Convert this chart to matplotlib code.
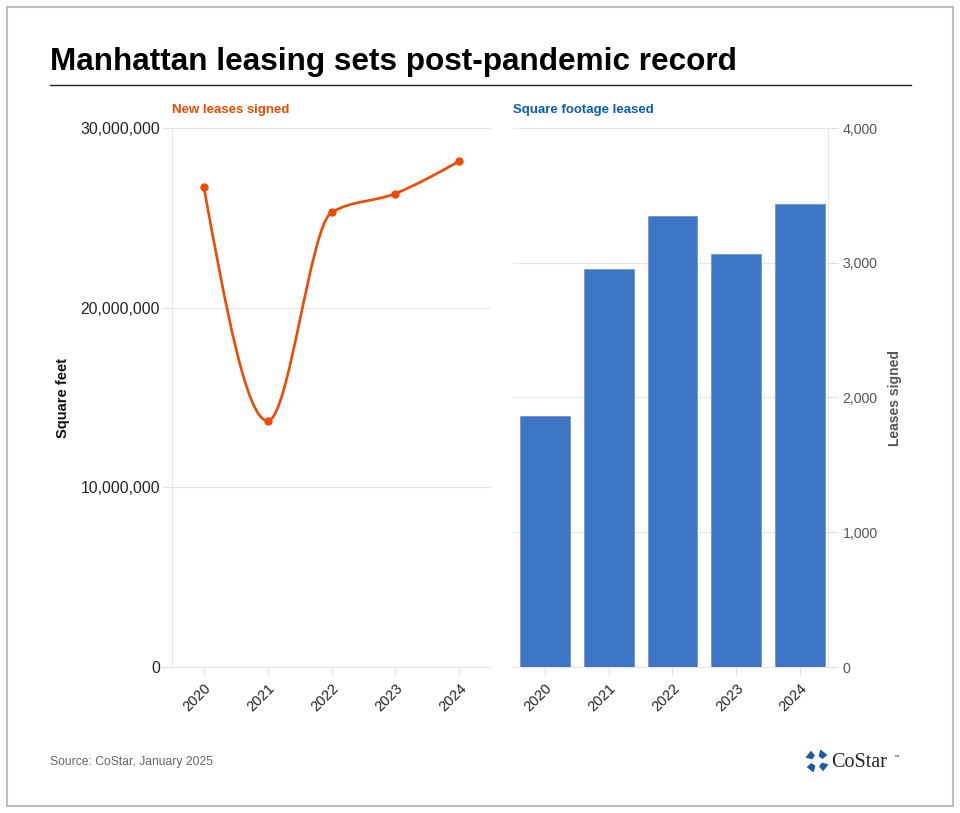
import numpy as np
import matplotlib
matplotlib.use("Agg")
import matplotlib.pyplot as plt
from matplotlib.path import Path
from matplotlib.patches import PathPatch, Rectangle, Polygon
from matplotlib.lines import Line2D
from matplotlib.ticker import FuncFormatter

plt.rcParams['font.family'] = ['Liberation Sans', 'DejaVu Sans']

years = ['2020', '2021', '2022', '2023', '2024']
square_feet = [26700000, 13700000, 25300000, 26350000, 28150000]
leases = [1865, 2955, 3345, 3065, 3435]

orange = '#f04a00'
blue = '#3d76c6'
W, H = 960, 813


def fx(px):
    return px / W


def fy(py):
    return 1 - py / H


def monotone_path(x, y):
    # d3 curveMonotoneX style bezier path through the points
    x = np.asarray(x, float)
    y = np.asarray(y, float)
    n = len(x)
    h = np.diff(x)
    s = np.diff(y) / h
    m = np.zeros(n)
    for i in range(1, n - 1):
        if s[i - 1] * s[i] <= 0:
            m[i] = 0
        else:
            p = (s[i - 1] * h[i] + s[i] * h[i - 1]) / (h[i - 1] + h[i])
            m[i] = (np.sign(s[i - 1]) + np.sign(s[i])) * min(abs(s[i - 1]), abs(s[i]), 0.5 * abs(p))
    m[0] = (3 * s[0] - m[1]) / 2
    m[-1] = (3 * s[-1] - m[-2]) / 2
    verts = [(x[0], y[0])]
    codes = [Path.MOVETO]
    for i in range(n - 1):
        d = h[i] / 3
        verts += [(x[i] + d, y[i] + d * m[i]), (x[i + 1] - d, y[i + 1] - d * m[i + 1]), (x[i + 1], y[i + 1])]
        codes += [Path.CURVE4] * 3
    return Path(verts, codes)


fig = plt.figure(figsize=(9.6, 8.13), dpi=100)

# outer border
fig.patches.append(Rectangle((fx(7), fy(806)), fx(946), 799 / H, transform=fig.transFigure,
                             fill=False, edgecolor='#bdbdbd', linewidth=1.5))

fig.text(fx(50), fy(62), 'Manhattan leasing sets post-pandemic record', fontsize=22.7,
         fontweight='bold', color='#000000', va='center', ha='left')
fig.add_artist(Line2D([fx(50), fx(911)], [fy(85), fy(85)], transform=fig.transFigure,
                      color='#222222', linewidth=1))

# left panel: line
ax1 = fig.add_axes([fx(172), fy(667), fx(491 - 172), (667 - 128) / H])
xs = np.arange(len(years))
ax1.add_patch(PathPatch(monotone_path(xs, square_feet), fill=False, edgecolor=orange,
                        linewidth=1.9, zorder=3))
ax1.plot(xs, square_feet, 'o', color=orange, markersize=5, zorder=4)
ax1.set_xlim(-0.5, 4.5)
ax1.set_ylim(0, 30000000)
ax1.set_yticks([0, 10000000, 20000000, 30000000])
ax1.yaxis.set_major_formatter(FuncFormatter(lambda v, p: f'{int(v):,}'))
ax1.set_xticks(xs)
ax1.set_xticklabels(years, rotation=45, ha='right', rotation_mode='anchor')
ax1.grid(axis='y', color='#e6e6e6', linewidth=0.8)
ax1.set_axisbelow(True)
for sp in ['top', 'right']:
    ax1.spines[sp].set_visible(False)
ax1.spines['left'].set_color('#e6e6e6')
ax1.spines['bottom'].set_color('#e6e6e6')
ax1.tick_params(axis='y', labelsize=11.3, colors='#e0e0e0', labelcolor='#222222', length=7, pad=1.5)
ax1.tick_params(axis='x', labelsize=10.5, colors='#e0e0e0', labelcolor='#222222', length=6, pad=4)
ax1.set_ylabel('Square feet', fontsize=10.5, fontweight='bold', color='#111111')
ax1.yaxis.set_label_coords((70 - 172) / (491 - 172), 0.5)
fig.text(fx(172), fy(110), 'New leases signed', fontsize=9.5, fontweight='bold',
         color=orange, va='center', ha='left')

# right panel: bars
ax2 = fig.add_axes([fx(513), fy(667), fx(828 - 513), (667 - 128) / H])
ax2.bar(xs, leases, width=0.78, color=blue, edgecolor='#6f98d6', linewidth=0.6, zorder=3)
ax2.set_xlim(-0.5, 4.44)
ax2.set_ylim(0, 4000)
ax2.set_yticks([0, 1000, 2000, 3000, 4000])
ax2.yaxis.set_major_formatter(FuncFormatter(lambda v, p: f'{int(v):,}'))
ax2.yaxis.tick_right()
ax2.yaxis.set_label_position('right')
ax2.set_xticks(xs)
ax2.set_xticklabels(years, rotation=45, ha='right', rotation_mode='anchor')
ax2.grid(axis='y', color='#e6e6e6', linewidth=0.8)
ax2.set_axisbelow(True)
for sp in ['top', 'left']:
    ax2.spines[sp].set_visible(False)
ax2.spines['right'].set_color('#e6e6e6')
ax2.spines['bottom'].set_color('#e6e6e6')
ax2.tick_params(axis='y', labelsize=10.2, colors='#e0e0e0', labelcolor='#555555', length=7, pad=3.5)
ax2.tick_params(axis='x', labelsize=10.5, colors='#e0e0e0', labelcolor='#222222', length=6, pad=4)
ax2.set_ylabel('Leases signed', fontsize=10, fontweight='bold', color='#555555', rotation=90)
ax2.yaxis.set_label_coords((888 - 513) / (828 - 513), 0.5)
fig.text(fx(513), fy(110), 'Square footage leased', fontsize=9.5, fontweight='bold',
         color='#0a5cb8', va='center', ha='left')

# footer
fig.text(fx(50), fy(762), 'Source: CoStar, January 2025', fontsize=8.7, color='#666666',
         va='center', ha='left')

# simple CoStar logo mark
cx, cy = 817, 761
for k in range(4):
    a = np.deg2rad(45 + 90 * k)
    pts = []
    for r, da in [(5, -0.45), (12, -0.5), (12, 0.25), (6, 0.45)]:
        pts.append((fx(cx + r * np.cos(a + da)), fy(cy + r * np.sin(a + da))))
    fig.patches.append(Polygon(pts, closed=True, transform=fig.transFigure,
                               facecolor='#1b5aa6', edgecolor='none'))
fig.text(fx(831), fy(762), 'CoStar', fontsize=14.5, family='Liberation Serif', color='#222222',
         va='center', ha='left')
fig.text(fx(893), fy(757), '™', fontsize=4, color='#222222', va='center', ha='left')

fig.savefig('out.png', dpi=100, facecolor='white')
